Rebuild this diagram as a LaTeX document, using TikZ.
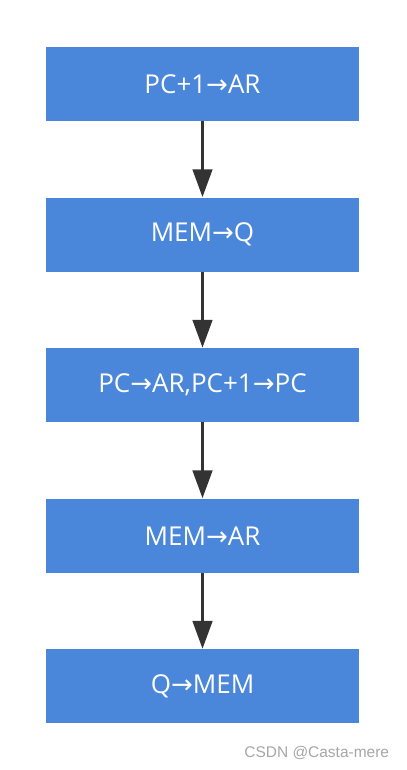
\documentclass[tikz,border=0pt]{standalone}
\usepackage{fontspec}
\setmainfont{Open Sans}
\newfontfamily\arrowfont{DejaVu Sans}
\newfontfamily\markfont{Liberation Sans}
\usetikzlibrary{arrows.meta, positioning}
\definecolor{boxblue}{RGB}{74,134,217}
\definecolor{linegray}{RGB}{51,51,51}
\newcommand{\ra}{{\arrowfont\char"2192}}

\begin{document}
\begin{tikzpicture}[
    node distance=1.9cm,
    box/.style={rectangle, fill=boxblue, minimum width=7.825cm, minimum height=1.85cm, align=center, text=white, font=\fontsize{18.5}{22}\selectfont},
    arrow/.style={-{Triangle[length=0.7cm, width=0.48cm]}, line width=2.8pt, draw=linegray, fill=linegray}
]
\useasboundingbox (0,0) rectangle (10.15,-19.25);
\node[box] at (5.0625,-2.1) (fetch) {PC+1\ra AR};
\node[box, below=of fetch] (readq) {MEM\ra Q};
\node[box, below=of readq] (pcinc) {PC\ra AR,PC+1\ra PC};
\node[box, below=of pcinc] (readar) {MEM\ra AR};
\node[box, below=of readar] (write) {Q\ra MEM};

\draw[arrow] (fetch) -- (readq);
\draw[arrow] (readq) -- (pcinc);
\draw[arrow] (pcinc) -- (readar);
\draw[arrow] (readar) -- (write);

\node[anchor=east, text=gray!70, font=\markfont\fontsize{11}{13}\selectfont] at (9.85,-18.83) (mark) {CSDN @Casta-mere};
\end{tikzpicture}
\end{document}
